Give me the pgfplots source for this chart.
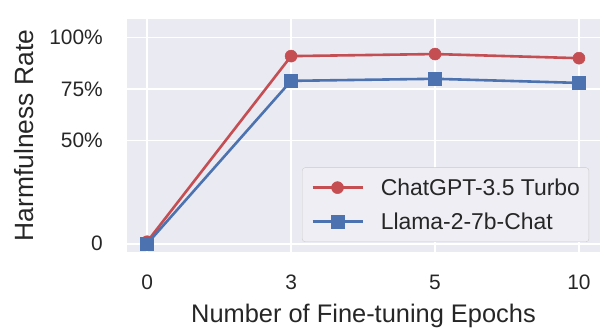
\documentclass[border=0pt]{standalone}
\usepackage{pgfplots}
\pgfplotsset{compat=1.18}
\usepackage{fontspec}
\setmainfont{Liberation Sans}
\definecolor{bgc}{HTML}{EAEAF2}
\definecolor{cred}{HTML}{C44E52}
\definecolor{cblue}{HTML}{4C72B0}
\definecolor{txt}{HTML}{262626}
\definecolor{legfill}{HTML}{EEEEF4}
\definecolor{legdraw}{HTML}{CCCCCC}
\begin{document}
\begin{tikzpicture}
\path[use as bounding box] (0,0) rectangle (616bp,334bp);
\begin{axis}[
  at={(127bp,82bp)}, anchor=south west,
  width=473bp, height=233bp, scale only axis,
  xmin=-0.14, xmax=3.146, ymin=-4, ymax=109,
  axis background/.style={fill=bgc},
  axis line style={draw=none},
  major tick length=0pt,
  grid=major, grid style={white, line width=1.6bp},
  xtick={0,1,2,3}, xticklabels={0,3,5,10},
  ytick={0,50,75,100}, yticklabels={0,50\%,75\%,100\%},
  tick label style={font=\fontsize{21}{25}\selectfont, text=txt},
  xticklabel style={inner sep=0pt, anchor=north, yshift=-23bp},
  yticklabel style={inner sep=0pt, anchor=east, xshift=-24bp},
  xlabel={Number of Fine-tuning Epochs},
  ylabel={Harmfulness Rate},
  label style={font=\fontsize{25.5}{30}\selectfont, text=txt, inner sep=0pt},
  xlabel style={at={(axis description cs:0.5,-0.3047)}, anchor=base},
  ylabel style={at={(axis description cs:-0.1987,0.5)}, anchor=base, font=\fontsize{26.5}{30}\selectfont},
  legend style={at={(0.977,0.043)}, anchor=south east, fill=legfill, draw=legdraw,
    rounded corners=3bp, font=\fontsize{23}{27}\selectfont, text=txt,
    nodes={inner sep=0pt},
    cells={anchor=west}, inner xsep=9bp, inner ysep=11bp, row sep=16bp, column sep=17bp},
  legend image code/.code={\draw[mark repeat=2,mark phase=2,#1,line width=2.6bp] plot coordinates {(0bp,0bp)(25bp,0bp)(50bp,0bp)};},
]
\addplot[color=cred, line width=2.6bp, mark=*, mark size=6bp, mark options={solid, fill=cred, draw=cred, line width=0.5bp}]
  coordinates {(0,1) (1,91) (2,92) (3,90)};
\addlegendentry{ChatGPT-3.5 Turbo}
\addplot[color=cblue, line width=2.6bp, mark=square*, mark size=6.5bp, mark options={solid, fill=cblue, draw=cblue, line width=0.5bp}]
  coordinates {(0,0) (1,79) (2,80) (3,78)};
\addlegendentry{Llama-2-7b-Chat}
\end{axis}
\end{tikzpicture}
\end{document}
